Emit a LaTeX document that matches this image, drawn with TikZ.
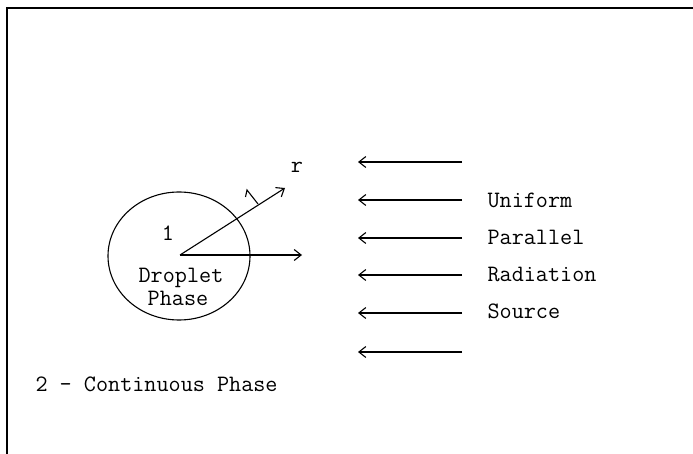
\documentclass[tikz,border=0pt]{standalone}
\usetikzlibrary{arrows.meta,shapes.geometric,calc}
\tikzset{
  lbl/.style={font=\ttfamily\fontsize{23.5}{27}\selectfont, inner sep=0pt},
  lblw/.style={lbl, anchor=west},
  ray/.style={line width=1.1pt, -{Straight Barb[length=7pt,width=11pt,line width=1.1pt]}},
}
\begin{document}
\begin{tikzpicture}[x=1pt,y=-1pt, line width=1.1pt]
\useasboundingbox (0,0) rectangle (693,454);
% frame (top and left edges)
\coordinate (fbl) at (7,454);
\coordinate (ftl) at (7,8);
\coordinate (ftr) at (693,8);
\draw[line width=1.5pt] (fbl) -- (ftl) -- (ftr);
% droplet
\node[draw, ellipse, minimum width=142pt, minimum height=128pt, inner sep=0pt] (drop) at (179,256) {};
\coordinate (c) at (180,255);
\coordinate (hx) at (302,255);
\coordinate (rend) at (285,188);
\draw[ray] (c) -- (hx);
\draw[ray] (c) -- (rend);
% normal tick on the radial line
\coordinate (tb) at (258,204);
\coordinate (tt) at (247,190);
\coordinate (tbarb) at (245.5,197);
\draw (tb) -- (tt) -- (tbarb);
% labels
\node[lbl] (lr) at (297,167) {r};
\node[lbl] (l1) at (168,233) {1};
\node[lbl] (ldrop) at (181,278) {Droplet};
\node[lbl] (lphase) at (178,298) {Phase};
\node[lblw] (lcont) at (35,384) {2 - Continuous Phase};
% radiation arrows
\foreach \i/\y in {1/162,2/200,3/238,4/275,5/313,6/352}{
  \coordinate (rs\i) at (462,\y);
  \coordinate (re\i) at (358,\y);
  \draw[ray] (rs\i) -- (re\i);
}
\node[lblw] (u) at (487,200) {Uniform};
\node[lblw] (p) at (487,237) {Parallel};
\node[lblw] (ra) at (487,274) {Radiation};
\node[lblw] (so) at (487,311) {Source};
\end{tikzpicture}
\end{document}
